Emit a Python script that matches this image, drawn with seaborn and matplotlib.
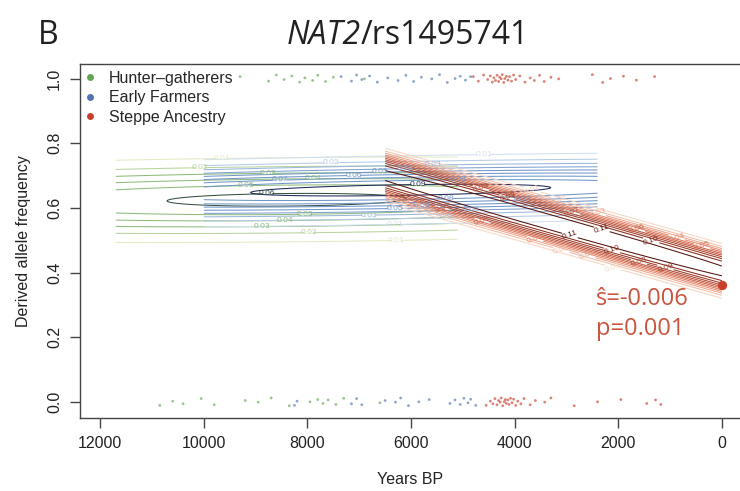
import numpy as np
import pandas as pd
import matplotlib
matplotlib.use("Agg")
import matplotlib.pyplot as plt
import seaborn as sns
from matplotlib.lines import Line2D

# ---------------- data ----------------
groups = ["Hunter\u2013gatherers", "Early Farmers", "Steppe Ancestry"]
group_colors = ["#62a852", "#5074b3", "#c63f2b"]

# sample ages (years BP) carrying the derived allele (plotted at 1) or not (plotted at 0)
hg_derived = [9300, 8750, 8600, 8450, 8300, 8150, 8050, 7900, 7800, 7650, 7500, 6900]
ef_derived = [7350, 7150, 7050, 6950, 6800, 6650, 6450, 6250, 6100, 5950, 5800, 5600,
              5450, 5300, 5150, 5050, 4950, 4850]
st_derived = [4800, 4700, 4600, 4520, 4470, 4430, 4400, 4370, 4340, 4310, 4290, 4260,
              4240, 4210, 4190, 4160, 4130, 4100, 4060, 4020, 3980, 3900, 3800, 3700,
              3620, 3520, 3430, 3300, 3150, 2500, 2300, 2150, 1900, 1650, 1300]
hg_ancestral = [10850, 10600, 10400, 10050, 9800, 9200, 8950, 8700, 8350, 7950, 7800,
                7700, 7600, 7450, 7300, 6600]
ef_ancestral = [8250, 8200, 7150, 7050, 6950, 6500, 6300, 6200, 6050, 5850, 5650, 5250,
                5150, 5050, 4980, 4900, 4850, 4750]
st_ancestral = [4550, 4470, 4420, 4380, 4340, 4310, 4280, 4260, 4230, 4200, 4180, 4160,
                4130, 4110, 4080, 4050, 4020, 3980, 3940, 3880, 3820, 3700, 3600, 3420,
                3300, 2850, 2400, 1950, 1450, 1280, 1180]
y_jitter = [0.006, -0.008, 0.011, -0.003, 0.008, -0.011, 0.002, -0.006, 0.010, -0.009,
            0.004, -0.001, 0.012, -0.012, 0.0, 0.007, -0.005]

# allele-frequency trajectory summaries (contour bands)
traj_start = [11700, 10000, 6500]
traj_end = [5100, 2400, 0]
freq_start = [0.620, 0.645, 0.700]
freq_end = [0.630, 0.665, 0.405]
freq_sd = [0.068, 0.050, 0.050]
peak_mid = [0.0625, 0.095, 0.116]
peak_edge = [0.0574, 0.0864, 0.1115]
shape_p = [2, 2, 3]
max_level = [0.06, 0.09, 0.11]
line_light = ["#e4ebc4", "#d0e0f1", "#f9d6c2"]
line_mid = ["#8fbb7c", "#7096cb", "#d8684a"]
line_deep = ["#8fbb7c", "#7096cb", "#8a2c1c"]
line_dark = ["#34503f", "#1c2858", "#55140c"]

present_freq = 0.36
stat_lines = ["\u015d=-0.006", "p=0.001"]
x_ticks = [12000, 10000, 8000, 6000, 4000, 2000, 0]
y_ticks = [0.0, 0.2, 0.4, 0.6, 0.8, 1.0]

# ---------------- style ----------------
sns.set_style("ticks")
base_font = ["Liberation Sans", "DejaVu Sans"]
title_font = ["Open Sans", "DejaVu Sans"]
plt.rcParams["font.family"] = base_font

W, H = 740, 491
fig = plt.figure(figsize=(W / 100, H / 100), dpi=100)
ax_l, ax_r, ax_t, ax_b = 80, 740, 64, 418
ax = fig.add_axes([ax_l / W, (H - ax_b) / H, (ax_r - ax_l) / W, (ax_b - ax_t) / H])

# ---------------- contour bands ----------------
for i in range(3):
    xs = np.linspace(traj_start[i], traj_end[i], 240)
    ys = np.linspace(0.15, 1.0, 500)
    X, Y = np.meshgrid(xs, ys)
    frac = (X - traj_start[i]) / (traj_end[i] - traj_start[i])
    mean = freq_start[i] + (freq_end[i] - freq_start[i]) * frac
    amp = peak_edge[i] + (peak_mid[i] - peak_edge[i]) * (1 - (2 * frac - 1) ** 2)
    z = np.abs(Y - mean) / freq_sd[i]
    Z = amp * np.exp(-0.5 * z ** shape_p[i])
    levels = np.round(np.arange(0.01, max_level[i] + 0.001, 0.01), 2)
    n = len(levels)
    cols = (sns.blend_palette([line_light[i], line_mid[i], line_deep[i]], n_colors=n - 1)
            + [line_dark[i]])
    cs = ax.contour(X, Y, Z, levels=levels, colors=cols, linewidths=0.75, zorder=2 + i)
    ax.clabel(cs, fmt="%.2f", fontsize=6, inline=True, inline_spacing=1)

# ---------------- sample points ----------------
rows = []
for g, der, anc in zip(groups, [hg_derived, ef_derived, st_derived],
                       [hg_ancestral, ef_ancestral, st_ancestral]):
    for k, t in enumerate(der):
        rows.append((t, 1.0 + y_jitter[k % len(y_jitter)], g))
    for k, t in enumerate(anc):
        rows.append((t, 0.0 + y_jitter[(k + 5) % len(y_jitter)], g))
df = pd.DataFrame(rows, columns=["time", "freq", "group"])
sns.scatterplot(data=df, x="time", y="freq", hue="group", hue_order=groups,
                palette=group_colors, s=4, alpha=0.65, linewidth=0, legend=False,
                ax=ax, zorder=5)

ax.scatter([0], [present_freq], s=45, color="#c8402a", zorder=8, clip_on=False,
           linewidths=0)

# ---------------- axes ----------------
ax.set_xlim(12390, -350)
ax.set_ylim(-0.05, 1.045)
ax.set_xticks(x_ticks)
ax.set_xticklabels([str(v) for v in x_ticks])
ax.set_yticks(y_ticks)
ax.set_yticklabels([f"{v:.1f}" for v in y_ticks], rotation=90, va="center")
ax.tick_params(axis="both", length=7, width=1, color="#444444", labelsize=11.5,
               labelcolor="#222222", pad=6)
for s in ["left", "bottom", "top"]:
    ax.spines[s].set_color("#444444")
    ax.spines[s].set_linewidth(1)
ax.spines["right"].set_visible(False)

ax.set_xlabel("Years BP", fontsize=11.5, color="#222222")
ax.set_ylabel("Derived allele frequency", fontsize=11.5, color="#222222")
ax.xaxis.set_label_coords(0.5, -0.152)
ax.yaxis.set_label_coords(-0.074, 0.5)

handles = [Line2D([0], [0], marker="o", linestyle="", markersize=5,
                  markerfacecolor=c, markeredgewidth=0) for c in group_colors]
ax.legend(handles, groups, loc="upper left", bbox_to_anchor=(-0.012, 1.012),
          frameon=False, fontsize=11.5, handlelength=0.8, handletextpad=0.8,
          labelspacing=0.28, borderaxespad=0.3)

# ---------------- titles / annotations ----------------
fig.text(38 / W, 1 - 44 / H, "B", fontsize=23, family=title_font, va="baseline",
         color="#222222")
t1 = fig.text(287 / W, 1 - 44 / H, "NAT2", fontsize=23, family=title_font,
              style="italic", va="baseline", color="#222222")
ax.annotate("/rs1495741", xy=(1, 0), xycoords=t1, va="bottom", ha="left",
            fontsize=23, family=title_font, color="#222222", annotation_clip=False)

fig.text(596 / W, 1 - 305 / H, stat_lines[0], fontsize=17, family=title_font,
         color="#c9553d", va="baseline")
fig.text(596 / W, 1 - 335 / H, stat_lines[1], fontsize=17, family=title_font,
         color="#c9553d", va="baseline")

fig.savefig("out.png", dpi=100)
